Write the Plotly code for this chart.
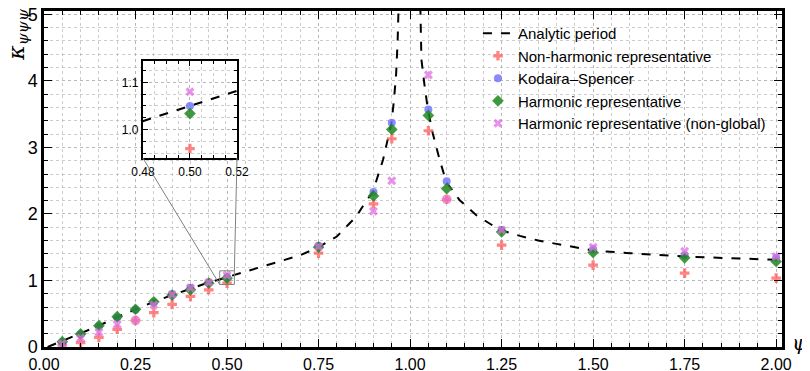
import plotly.graph_objects as go

# ---------------- data ----------------
psi = [0.05, 0.10, 0.15, 0.20, 0.25, 0.30, 0.35, 0.40, 0.45, 0.50,
       0.75, 0.90, 0.95, 1.05, 1.10, 1.25, 1.50, 1.75, 2.00]

non_harmonic = [0.03, 0.065, 0.146, 0.266, 0.40, 0.517, 0.64, 0.76, 0.86, 0.96,
                1.41, 2.15, 3.13, 3.25, 2.22, 1.53, 1.23, 1.11, 1.035]
kodaira_spencer = [0.07, 0.19, 0.31, 0.44, 0.56, 0.67, 0.79, 0.89, 0.97, 1.05,
                   1.52, 2.33, 3.37, 3.57, 2.49, 1.76, 1.47, 1.38, 1.34]
harmonic = [0.08, 0.196, 0.32, 0.456, 0.567, 0.68, 0.78, 0.86, 0.96, 1.034,
            1.50, 2.27, 3.27, 3.48, 2.38, 1.73, 1.42, 1.34, 1.285]
harmonic_nonglobal = [0.05, 0.13, 0.22, 0.34, 0.40, 0.63, 0.79, 0.89, 0.97, 1.08,
                      1.51, 2.04, 2.50, 4.09, 2.22, 1.76, 1.50, 1.44, 1.36]

# analytic period curve (two branches)
analytic_psi_left = [0.01, 0.05, 0.10, 0.15, 0.20, 0.25, 0.30, 0.35, 0.40, 0.45,
                     0.50, 0.55, 0.60, 0.65, 0.70, 0.75, 0.80, 0.835, 0.853, 0.876,
                     0.898, 0.926, 0.939, 0.949, 0.956, 0.962, 0.966, 0.970]
analytic_k_left = [0.0, 0.09, 0.20, 0.32, 0.45, 0.57, 0.68, 0.78, 0.88, 0.97,
                   1.05, 1.13, 1.21, 1.29, 1.38, 1.50, 1.66, 1.86, 1.96, 2.16,
                   2.33, 2.81, 3.11, 3.36, 3.71, 4.11, 4.60, 5.40]
analytic_psi_right = [1.027, 1.031, 1.040, 1.049, 1.062, 1.081, 1.099, 1.135, 1.181, 1.245,
                      1.30, 1.35, 1.40, 1.50, 1.60, 1.75, 1.90, 2.00]
analytic_k_right = [5.40, 4.32, 3.91, 3.56, 3.21, 2.81, 2.48, 2.21, 1.98, 1.76,
                    1.67, 1.60, 1.55, 1.45, 1.41, 1.36, 1.33, 1.31]

x_ticks = [0.0, 0.25, 0.5, 0.75, 1.0, 1.25, 1.5, 1.75, 2.0]
x_tick_labels = ["0.00", "0.25", "0.50", "0.75", "1.00", "1.25", "1.50", "1.75", "2.00"]
y_ticks = [0, 1, 2, 3, 4, 5]
inset_x_ticks = [0.48, 0.50, 0.52]
inset_x_labels = ["0.48", "0.50", "0.52"]
inset_y_ticks = [1.0, 1.1]
inset_y_labels = ["1.0", "1.1"]

# ---------------- styles ----------------
X_RANGE = [0.0, 2.016]
Y_RANGE = [0.0, 5.05]
INSET_X_RANGE = [0.48, 0.52]
INSET_Y_RANGE = [0.94, 1.145]
INSET_X_DOMAIN = [0.134, 0.2615]
INSET_Y_DOMAIN = [0.5625, 0.851]

C_RED = "rgba(255,90,90,0.75)"
C_BLUE = "rgba(110,110,255,0.8)"
C_GREEN = "rgba(30,135,30,0.85)"
C_PINK = "rgba(225,110,225,0.75)"
FONT = "Liberation Sans"
GRID = "rgba(170,170,170,0.6)"

fig = go.Figure()


def add_series(xa, ya, show):
    fig.add_trace(go.Scatter(x=analytic_psi_left, y=analytic_k_left, mode="lines",
                             line=dict(color="black", width=2, dash="dash"),
                             name="Analytic period", legendgroup="a",
                             showlegend=show, xaxis=xa, yaxis=ya))
    fig.add_trace(go.Scatter(x=analytic_psi_right, y=analytic_k_right, mode="lines",
                             line=dict(color="black", width=2, dash="dash"),
                             name="Analytic period", legendgroup="a",
                             showlegend=False, xaxis=xa, yaxis=ya))
    fig.add_trace(go.Scatter(x=psi, y=non_harmonic, mode="markers",
                             marker=dict(symbol="cross", size=8, color=C_RED, line=dict(width=0)),
                             name="Non-harmonic representative", showlegend=show,
                             xaxis=xa, yaxis=ya))
    fig.add_trace(go.Scatter(x=psi, y=kodaira_spencer, mode="markers",
                             marker=dict(symbol="circle", size=8, color=C_BLUE, line=dict(width=0)),
                             name="Kodaira\u2013Spencer", showlegend=show,
                             xaxis=xa, yaxis=ya))
    fig.add_trace(go.Scatter(x=psi, y=harmonic, mode="markers",
                             marker=dict(symbol="diamond", size=9, color=C_GREEN, line=dict(width=0)),
                             name="Harmonic representative", showlegend=show,
                             xaxis=xa, yaxis=ya))
    fig.add_trace(go.Scatter(x=psi, y=harmonic_nonglobal, mode="markers",
                             marker=dict(symbol="x", size=8, color=C_PINK, line=dict(width=0)),
                             name="Harmonic representative (non-global)", showlegend=show,
                             xaxis=xa, yaxis=ya))


add_series("x", "y", True)
add_series("x2", "y2", False)

grid_common = dict(showgrid=True, gridcolor=GRID, griddash="dot", automargin=False,
                   gridwidth=1, zeroline=False, showline=True, linecolor="black",
                   mirror="allticks", ticks="inside", tickcolor="black")

# the page puts the figure 8 px in from the top-left corner, so the figure is
# sized 8 px smaller and its margins are reduced accordingly
fig.update_layout(
    width=802, height=363,
    margin=dict(l=36, r=28, t=3, b=24),
    paper_bgcolor="white", plot_bgcolor="white",
    font=dict(family=FONT, color="black"),
    xaxis=dict(range=X_RANGE, tickvals=x_ticks, ticktext=x_tick_labels,
               tickfont=dict(size=16), ticklen=8, tickwidth=1.2, linewidth=2.5,
               ticklabelstandoff=1,
               minor=dict(dtick=0.05, tick0=0, ticks="inside", ticklen=4,
                          showgrid=True, gridcolor=GRID, griddash="dot"),
               **grid_common),
    yaxis=dict(range=Y_RANGE, tickvals=y_ticks, tickfont=dict(size=18),
               ticklen=8, tickwidth=1.2, linewidth=2.5, ticklabeloverflow="allow",
               minor=dict(dtick=0.2, tick0=0, ticks="inside", ticklen=4,
                          showgrid=True, gridcolor=GRID, griddash="dot"),
               **grid_common),
    xaxis2=dict(domain=INSET_X_DOMAIN, anchor="y2", range=INSET_X_RANGE,
                tickvals=inset_x_ticks, ticktext=inset_x_labels, tickfont=dict(size=12),
                ticklen=5, linewidth=2, ticklabelstandoff=2,
                minor=dict(dtick=0.005, tick0=0.48, ticks="inside", ticklen=3,
                           showgrid=True, gridcolor=GRID, griddash="dot"),
                **grid_common),
    yaxis2=dict(domain=INSET_Y_DOMAIN, anchor="x2", range=INSET_Y_RANGE,
                tickvals=inset_y_ticks, ticktext=inset_y_labels, tickfont=dict(size=12),
                ticklen=5, linewidth=2,
                minor=dict(dtick=0.025, tick0=1.0, ticks="inside", ticklen=3,
                           showgrid=True, gridcolor=GRID, griddash="dot"),
                **grid_common),
    legend=dict(x=0.588, y=0.982, xanchor="left", yanchor="top",
                bgcolor="rgba(0,0,0,0)", font=dict(size=15, family=FONT),
                itemwidth=30, tracegroupgap=0),
    showlegend=True,
)


# inset indicator box and connector lines (computed from the inset's range/domain)
def inset_corner_in_main(fx, fy):
    x = X_RANGE[0] + INSET_X_DOMAIN[fx] * (X_RANGE[1] - X_RANGE[0])
    y = Y_RANGE[0] + INSET_Y_DOMAIN[fy] * (Y_RANGE[1] - Y_RANGE[0])
    return x, y


fig.add_shape(type="rect", xref="x", yref="y",
              x0=INSET_X_RANGE[0], x1=INSET_X_RANGE[1],
              y0=INSET_Y_RANGE[0], y1=INSET_Y_RANGE[1],
              line=dict(color="gray", width=1))
bl = inset_corner_in_main(0, 0)
br = inset_corner_in_main(1, 0)
fig.add_shape(type="line", xref="x", yref="y",
              x0=INSET_X_RANGE[0], y0=INSET_Y_RANGE[0], x1=bl[0], y1=bl[1],
              line=dict(color="gray", width=1))
fig.add_shape(type="line", xref="x", yref="y",
              x0=INSET_X_RANGE[1], y0=INSET_Y_RANGE[1], x1=br[0], y1=br[1],
              line=dict(color="gray", width=1))

# axis labels
fig.add_annotation(text="<i>\u03ba</i><sub><i>\u03c8\u03c8\u03c8</i></sub>",
                   xref="paper", yref="paper", x=-0.035, y=0.93,
                   xanchor="center", yanchor="middle",
                   textangle=-90, showarrow=False, font=dict(size=22, family="DejaVu Serif"))
fig.add_annotation(text="<i>\u03c8</i>", xref="paper", yref="paper", x=1.024, y=0.012,
                   xanchor="center", yanchor="middle",
                   showarrow=False, font=dict(size=20, family="DejaVu Serif"))

fig.write_html("out.html")
